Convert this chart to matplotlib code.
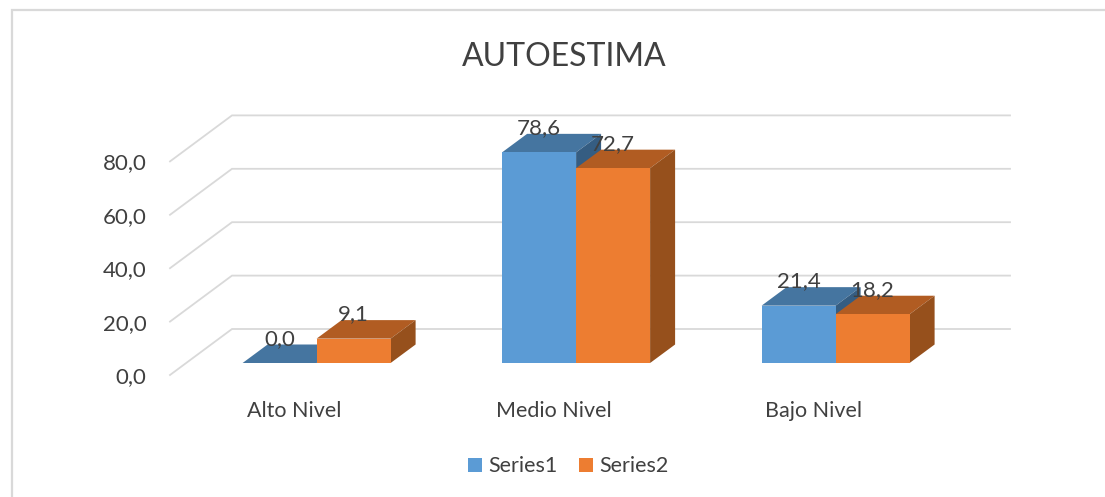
import matplotlib
matplotlib.use('Agg')
import matplotlib.pyplot as plt
from matplotlib.lines import Line2D
from matplotlib.patches import Patch, Polygon

plt.rcParams['font.family'] = ['Lato', 'DejaVu Sans']

title = 'AUTOESTIMA'
categories = ['Alto Nivel', 'Medio Nivel', 'Bajo Nivel']
series1 = [0.0, 78.6, 21.4]
series2 = [9.1, 72.7, 18.2]
ticks = [0, 20, 40, 60, 80]

W, H = 1105, 497
PX_X = 259.5  # px per category
PX_Y = 2.68   # px per value unit
BAR_W = 74 / PX_X
BAR_DX, BAR_DY = 25 / PX_X, 18.5 / PX_Y     # depth of a bar
WALL_DX, WALL_DY = 62 / PX_X, 46 / PX_Y     # depth of the floor
FRONT_X, FRONT_Y = (170 - 316.6) / PX_X, -12 / PX_Y  # front left floor corner
GRID_END = (1010 - 316.6) / PX_X

TEXT = '#404040'
GRID = '#d9d9d9'
COLORS1 = ['#5b9bd5', '#4575a0', '#355d82']
COLORS2 = ['#ed7d31', '#b15c22', '#96501c']


def draw_bar(ax, left, value, colors, z):
    right = left + BAR_W
    ax.add_patch(Polygon([(left, 0), (right, 0), (right, value), (left, value)],
                         fc=colors[0], ec='none', zorder=z + 0.2))
    ax.add_patch(Polygon([(left, value), (right, value),
                          (right + BAR_DX, value + BAR_DY), (left + BAR_DX, value + BAR_DY)],
                         fc=colors[1], ec='none', zorder=z))
    ax.add_patch(Polygon([(right, 0), (right + BAR_DX, BAR_DY),
                          (right + BAR_DX, value + BAR_DY), (right, value)],
                         fc=colors[2], ec='none', zorder=z + 0.1))


fig = plt.figure(figsize=(W / 100, H / 100), dpi=100)
ax = fig.add_axes([0, 0, 1, 1])
ax.set_xlim(-316.6 / PX_X, (W - 316.6) / PX_X)
ax.set_ylim(-(H - 363) / PX_Y, 363 / PX_Y)
ax.axis('off')

# chart border, only left and top show in the crop
fig.add_artist(Line2D([12 / W, 12 / W, 1], [0, 1 - 10 / H, 1 - 10 / H],
                      color=GRID, lw=1.6, solid_joinstyle='miter'))

for t in ticks:
    y = FRONT_Y + t * 2.67 / PX_Y
    ax.plot([FRONT_X, FRONT_X + WALL_DX, GRID_END], [y, y + WALL_DY, y + WALL_DY],
            color=GRID, lw=1.3, zorder=1, solid_joinstyle='miter')
    ax.annotate(f'{t:.1f}'.replace('.', ','), (FRONT_X, y), xytext=(-17, -1.5),
                textcoords='offset points', color=TEXT, fontsize=16, ha='right', va='center')

for i, cat in enumerate(categories):
    draw_bar(ax, i - BAR_W, series1[i], COLORS1, 2 + i)
    draw_bar(ax, i, series2[i], COLORS2, 2.5 + i)
    ax.annotate(f'{series1[i]:.1f}'.replace('.', ','), (i - BAR_W / 2, series1[i]),
                xytext=(0, 17.5), textcoords='offset points', color=TEXT, fontsize=16,
                ha='center', va='center', zorder=10)
    ax.annotate(f'{series2[i]:.1f}'.replace('.', ','), (i + BAR_W / 2, series2[i]),
                xytext=(0, 17.5), textcoords='offset points', color=TEXT, fontsize=16,
                ha='center', va='center', zorder=10)
    ax.annotate(cat, (i, 0), xytext=(-16, -34.5), textcoords='offset points', color=TEXT,
                fontsize=15.5, ha='center', va='center')

fig.text(564 / W, 1 - 57.5 / H, title, color=TEXT, fontsize=23, ha='center', va='center')

handles = [Patch(fc=COLORS1[0], label='Series1'), Patch(fc=COLORS2[0], label='Series2')]
fig.legend(handles=handles, loc='center', bbox_to_anchor=(568 / W, 1 - 466.5 / H), ncol=2,
           frameon=False, fontsize=15.5, labelcolor=TEXT, handlelength=0.65, handleheight=0.65,
           handletextpad=0.3, columnspacing=1.0, borderpad=0)

fig.savefig('out.png', dpi=100)
